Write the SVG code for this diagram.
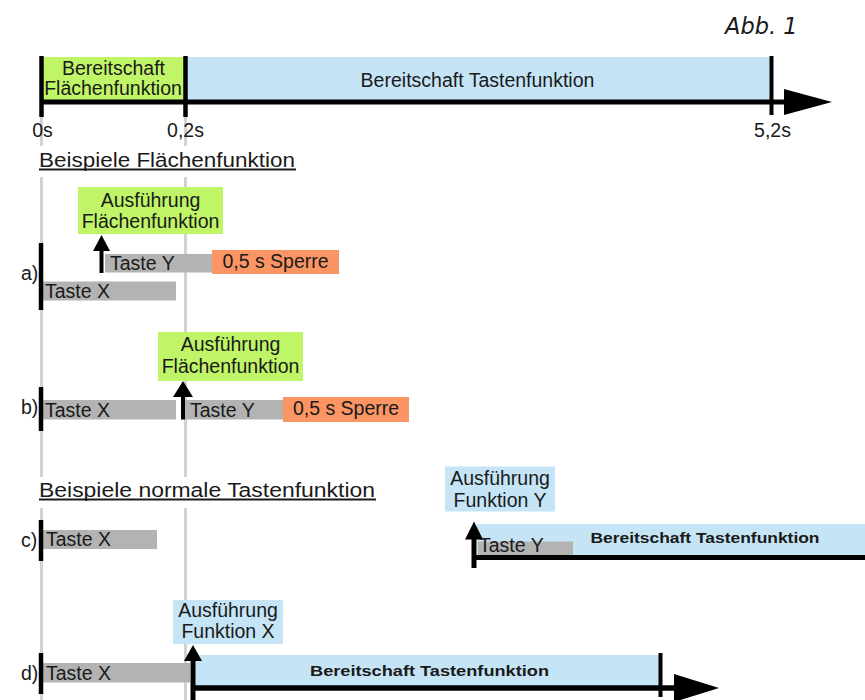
<svg xmlns="http://www.w3.org/2000/svg" width="865" height="700" viewBox="0 0 865 700">
<style>
text{font-family:"Liberation Sans",Arial,sans-serif;font-size:19.5px;fill:#1a1a1a}
.c{text-anchor:middle}
.h{font-size:20px}
.b{font-weight:bold;font-size:15px}
.green{fill:#bff566}
.blue{fill:#c5e5f6}
.gray{fill:#b3b3b3}
.orange{fill:#fb9564}
.guide{stroke:#d2d2d2;stroke-width:3}
.k{stroke:#000;fill:none}
.head{fill:#000}
</style>
<rect width="865" height="700" fill="#fff"/>
<text x="725" y="34" style="font-family:'DejaVu Sans',sans-serif;font-style:italic;font-size:22.5px">Abb. 1</text>

<g id="guides">
<line class="guide" x1="41.5" y1="117" x2="41.5" y2="146"/>
<line class="guide" x1="41.5" y1="177" x2="41.5" y2="477"/>
<line class="guide" x1="41.5" y1="508" x2="41.5" y2="700"/>
<line class="guide" x1="185.5" y1="117" x2="185.5" y2="146"/>
<line class="guide" x1="185.5" y1="177" x2="185.5" y2="477"/>
<line class="guide" x1="185.5" y1="508" x2="185.5" y2="700"/>
</g>

<g id="timeline">
<rect class="green" x="41" y="57" width="144" height="44"/>
<rect class="blue" x="185" y="57" width="585" height="44"/>
<text class="c" x="113.5" y="75">Bereitschaft</text>
<text class="c" x="113" y="95">Flächenfunktion</text>
<text class="c" x="477.5" y="86.5">Bereitschaft Tastenfunktion</text>
<text class="c" x="42.5" y="137">0s</text>
<text class="c" x="185.5" y="137">0,2s</text>
<text class="c" x="772.5" y="137">5,2s</text>
</g>

<g id="headings">
<text class="h" x="39" y="166.5" textLength="256" lengthAdjust="spacingAndGlyphs">Beispiele Flächenfunktion</text>
<line x1="39" y1="169.5" x2="296" y2="169.5" stroke="#1a1a1a" stroke-width="2"/>
<text class="h" x="39" y="496.5" textLength="336" lengthAdjust="spacingAndGlyphs">Beispiele normale Tastenfunktion</text>
<line x1="39" y1="499.5" x2="376" y2="499.5" stroke="#1a1a1a" stroke-width="2"/>
</g>

<g id="row-a">
<text x="21" y="280">a)</text>
<rect class="gray" x="43" y="281.5" width="133" height="19"/>
<text x="45" y="298">Taste X</text>
<rect class="gray" x="105" y="254" width="108" height="18.5"/>
<text x="110" y="270">Taste Y</text>
<rect class="orange" x="212" y="250" width="127" height="24"/>
<text class="c" x="275.5" y="267.5">0,5 s Sperre</text>
<rect class="green" x="78" y="187" width="145" height="47"/>
<text class="c" x="150.5" y="207">Ausführung</text>
<text class="c" x="150.5" y="227.5">Flächenfunktion</text>
</g>

<g id="row-b">
<text x="21" y="414">b)</text>
<rect class="gray" x="43" y="400" width="133" height="19.5"/>
<text x="45" y="416.5">Taste X</text>
<rect class="gray" x="185" y="400" width="98" height="19.5"/>
<text x="190" y="416.5">Taste Y</text>
<rect class="orange" x="283" y="397" width="126" height="25"/>
<text class="c" x="346" y="415">0,5 s Sperre</text>
<rect class="green" x="158" y="332" width="145" height="49"/>
<text class="c" x="230.5" y="351">Ausführung</text>
<text class="c" x="230.5" y="373">Flächenfunktion</text>
</g>

<g id="row-c">
<text x="21" y="546.5">c)</text>
<rect class="gray" x="43" y="530" width="114" height="19"/>
<text x="46" y="546">Taste X</text>
<rect class="blue" x="477" y="524" width="388" height="32"/>
<rect class="gray" x="478" y="541.5" width="95" height="14"/>
<text x="479" y="552">Taste Y</text>
<text class="b" x="590.5" y="543" textLength="229" lengthAdjust="spacingAndGlyphs">Bereitschaft Tastenfunktion</text>
<rect class="blue" x="445" y="466.5" width="110" height="45"/>
<text class="c" x="500" y="485">Ausführung</text>
<text class="c" x="500" y="506.5">Funktion Y</text>
</g>

<g id="row-d">
<text x="21" y="680">d)</text>
<rect class="gray" x="43" y="663" width="147" height="19.5"/>
<text x="46" y="680">Taste X</text>
<rect class="blue" x="195" y="655" width="464" height="31"/>
<text class="b" x="310" y="676" textLength="239" lengthAdjust="spacingAndGlyphs">Bereitschaft Tastenfunktion</text>
<rect class="blue" x="173" y="600" width="110" height="44"/>
<text class="c" x="228" y="617">Ausführung</text>
<text class="c" x="228" y="638">Funktion X</text>
</g>

<g id="connectors">
<line class="k" x1="41" y1="102" x2="786" y2="102" stroke-width="5"/>
<polygon class="head" points="784,89 832,102 784,115"/>
<line class="k" x1="41.5" y1="56" x2="41.5" y2="117" stroke-width="4.5"/>
<line class="k" x1="185.5" y1="56" x2="185.5" y2="117" stroke-width="4.5"/>
<line class="k" x1="771.5" y1="56" x2="771.5" y2="115" stroke-width="4"/>
<line class="k" x1="41" y1="243" x2="41" y2="310" stroke-width="4.5"/>
<line class="k" x1="41" y1="387" x2="41" y2="431" stroke-width="4.5"/>
<line class="k" x1="41" y1="520" x2="41" y2="561" stroke-width="4.5"/>
<line class="k" x1="41" y1="653" x2="41" y2="694" stroke-width="4.5"/>
<line class="k" x1="101.5" y1="273" x2="101.5" y2="249" stroke-width="4"/>
<polygon class="head" points="93,251 110,251 101.5,235"/>
<line class="k" x1="183" y1="419.5" x2="183" y2="395" stroke-width="4"/>
<polygon class="head" points="173,397 193,397 183,381"/>
<line class="k" x1="474" y1="568" x2="474" y2="537" stroke-width="5"/>
<polygon class="head" points="465,539.5 483,539.5 474,521.5"/>
<line class="k" x1="472" y1="557.5" x2="865" y2="557.5" stroke-width="5"/>
<line class="k" x1="193" y1="700" x2="193" y2="659" stroke-width="5"/>
<polygon class="head" points="184,661 202,661 193,645"/>
<line class="k" x1="191" y1="688" x2="676" y2="688" stroke-width="5.5"/>
<polygon class="head" points="674,674 719,688 674,702"/>
<line class="k" x1="660.5" y1="653" x2="660.5" y2="697" stroke-width="4"/>
</g>
</svg>
